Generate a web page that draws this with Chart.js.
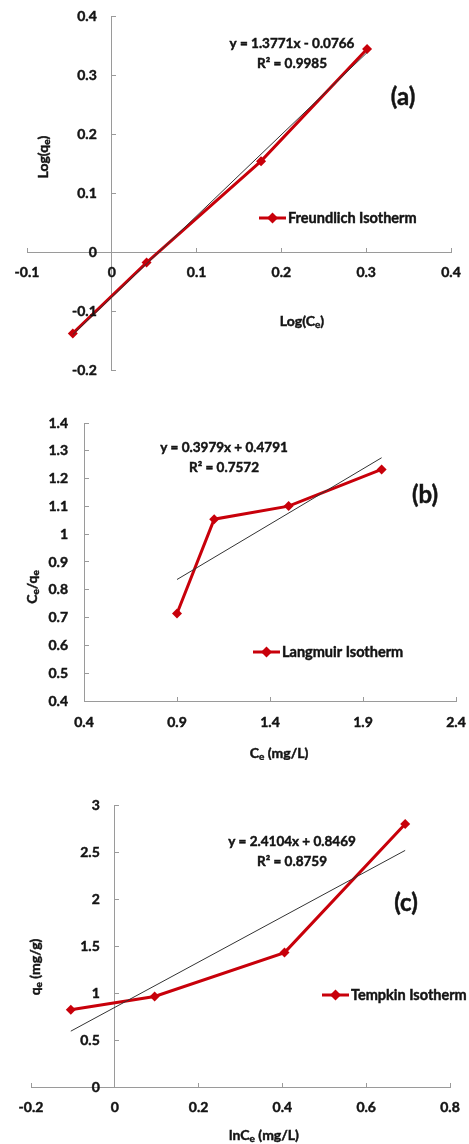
<!DOCTYPE html>
<html>
<head>
<meta charset="utf-8">
<script src="https://cdn.jsdelivr.net/npm/chart.js@4"></script>
<style>
  body { margin: 0; background: #fff; }
  #wrap { position: relative; width: 469px; height: 1144px; }
  canvas { position: absolute; left: 0; }
</style>
</head>
<body>
<div id="wrap">
  <canvas id="chartA" width="469" height="380" style="top:0"></canvas>
  <canvas id="chartB" width="469" height="380" style="top:380px"></canvas>
  <canvas id="chartC" width="469" height="384" style="top:760px"></canvas>
</div>
<script>
// (a) Freundlich isotherm
const freundlichX = [-0.046, 0.041, 0.176, 0.301];
const freundlichY = [-0.138, -0.018, 0.154, 0.344];
const freundlichTrendX = [-0.046, 0.301];
const freundlichTrendY = [-0.140, 0.338];
const freundlichXTicks = [-0.1, 0, 0.1, 0.2, 0.3, 0.4];
const freundlichYTicks = [-0.2, -0.1, 0, 0.1, 0.2, 0.3, 0.4];

// (b) Langmuir isotherm
const langmuirX = [0.9, 1.1, 1.5, 2.0];
const langmuirY = [0.715, 1.054, 1.101, 1.233];
const langmuirTrendX = [0.9, 2.0];
const langmuirTrendY = [0.837, 1.275];
const langmuirXTicks = [0.4, 0.9, 1.4, 1.9, 2.4];
const langmuirYTicks = [0.4, 0.5, 0.6, 0.7, 0.8, 0.9, 1, 1.1, 1.2, 1.3, 1.4];

// (c) Tempkin isotherm
const tempkinX = [-0.105, 0.095, 0.405, 0.693];
const tempkinY = [0.821, 0.963, 1.430, 2.798];
const tempkinTrendX = [-0.105, 0.693];
const tempkinTrendY = [0.594, 2.517];
const tempkinXTicks = [-0.2, 0, 0.2, 0.4, 0.6, 0.8];
const tempkinYTicks = [0, 0.5, 1, 1.5, 2, 2.5, 3];

const RED = '#c8000a';
const AXIS = '#9a9a9a';
const TEXT = '#141414';
const FONT = 'Lato, "Liberation Sans", sans-serif';

function points(xs, ys) {
    return xs.map((x, i) => ({ x: x, y: ys[i] }));
}

// fill plus a hairline stroke, so the bold text reads as heavy as the original
function heavyText(ctx, s, x, y) {
    ctx.fillText(s, x, y);
    ctx.strokeText(s, x, y);
}

// draws text made of [string, isSubscript] parts, centred on x
function drawRich(ctx, parts, x, y, size) {
    const subSize = Math.round(size * 0.68);
    let total = 0;
    parts.forEach(p => {
        ctx.font = 'bold ' + (p[1] ? subSize : size) + 'px ' + FONT;
        total += ctx.measureText(p[0]).width;
    });
    let cx = x - total / 2;
    ctx.textAlign = 'left';
    ctx.textBaseline = 'middle';
    parts.forEach(p => {
        ctx.font = 'bold ' + (p[1] ? subSize : size) + 'px ' + FONT;
        heavyText(ctx, p[0], cx, p[1] ? y + size * 0.28 : y);
        cx += ctx.measureText(p[0]).width;
    });
}

function makeChart(id, cfg) {
    const overlay = {
        id: 'overlay',
        afterDraw(chart) {
            const ctx = chart.ctx;
            const xs = chart.scales.x, ys = chart.scales.y;
            const axisY = ys.getPixelForValue(cfg.xCross);
            const axisX = xs.getPixelForValue(cfg.yCross);
            ctx.save();
            ctx.fillStyle = TEXT;
            ctx.strokeStyle = TEXT;
            ctx.lineWidth = 0.45;
            ctx.font = 'bold 14px ' + FONT;
            // tick labels
            ctx.textAlign = 'center';
            ctx.textBaseline = 'middle';
            xs.ticks.forEach(t => heavyText(ctx, String(t.value), xs.getPixelForValue(t.value), axisY + cfg.xLabelGap));
            ctx.textAlign = 'right';
            ys.ticks.forEach(t => heavyText(ctx, String(t.value), axisX - cfg.yLabelGap, ys.getPixelForValue(t.value)));
            // trendline equation
            drawRich(ctx, [[cfg.equation[0], false]], cfg.eqPos[0], cfg.eqPos[1], 13.5);
            drawRich(ctx, [[cfg.equation[1], false]], cfg.eqPos[0], cfg.eqPos[1] + 20, 13.5);
            // panel tag
            drawRich(ctx, [[cfg.tag, false]], cfg.tagPos[0], cfg.tagPos[1], 24);
            // axis titles
            drawRich(ctx, cfg.xTitle, cfg.xTitlePos[0], cfg.xTitlePos[1], 14);
            ctx.translate(cfg.yTitlePos[0], cfg.yTitlePos[1]);
            ctx.rotate(-Math.PI / 2);
            drawRich(ctx, cfg.yTitle, 0, 0, 14);
            ctx.restore();

            // legend
            const [lx, ly] = cfg.legendPos;
            ctx.save();
            ctx.strokeStyle = RED;
            ctx.lineWidth = 3;
            ctx.beginPath();
            ctx.moveTo(lx, ly);
            ctx.lineTo(lx + 27, ly);
            ctx.stroke();
            ctx.fillStyle = RED;
            ctx.beginPath();
            ctx.moveTo(lx + 13.5, ly - 5.5);
            ctx.lineTo(lx + 19, ly);
            ctx.lineTo(lx + 13.5, ly + 5.5);
            ctx.lineTo(lx + 8, ly);
            ctx.closePath();
            ctx.fill();
            ctx.fillStyle = TEXT;
            ctx.strokeStyle = TEXT;
            ctx.lineWidth = 0.45;
            ctx.font = 'bold 14.5px ' + FONT;
            ctx.textAlign = 'left';
            ctx.textBaseline = 'middle';
            heavyText(ctx, cfg.legend, lx + 29, ly);
            ctx.restore();
        }
    };

    const axisOpts = (ticks, cross, crossAxis) => ({
        type: 'linear',
        min: ticks[0],
        max: ticks[ticks.length - 1],
        position: { [crossAxis]: cross },
        afterBuildTicks: s => { s.ticks = ticks.map(v => ({ value: v })); },
        ticks: { display: false, autoSkip: false },
        grid: { drawOnChartArea: false, drawTicks: true, tickLength: -5, color: AXIS },
        border: { color: AXIS, width: 1 }
    });

    return new Chart(document.getElementById(id), {
        type: 'scatter',
        data: {
            datasets: [{
                label: cfg.legend,
                data: points(cfg.x, cfg.y),
                showLine: true,
                borderColor: RED,
                backgroundColor: RED,
                borderWidth: 3,
                pointStyle: 'rectRot',
                pointRadius: 5,
                pointBorderWidth: 0,
                order: 1
            }, {
                label: 'trend',
                data: points(cfg.trendX, cfg.trendY),
                showLine: true,
                borderColor: '#333333',
                borderWidth: 1,
                pointRadius: 0,
                order: 0
            }]
        },
        options: {
            responsive: false,
            animation: false,
            layout: { padding: cfg.padding },
            plugins: { legend: { display: false }, tooltip: { enabled: false } },
            scales: {
                x: axisOpts(cfg.xTicks, cfg.xCross, 'y'),
                y: axisOpts(cfg.yTicks, cfg.yCross, 'x')
            }
        },
        plugins: [overlay]
    });
}

makeChart('chartA', {
    x: freundlichX, y: freundlichY, trendX: freundlichTrendX, trendY: freundlichTrendY,
    xTicks: freundlichXTicks, yTicks: freundlichYTicks, xCross: 0, yCross: 0,
    padding: { left: 27, right: 18, top: 16, bottom: 10 },
    xLabelGap: 20, yLabelGap: 15,
    equation: ['y = 1.3771x - 0.0766', 'R\u00b2 = 0.9985'], eqPos: [292, 44],
    tag: '(a)', tagPos: [403, 97],
    legend: 'Freundlich Isotherm', legendPos: [259, 218],
    xTitle: [['Log(C', false], ['e', true], [')', false]], xTitlePos: [302, 321],
    yTitle: [['Log(q', false], ['e', true], [')', false]], yTitlePos: [43, 157]
});

makeChart('chartB', {
    x: langmuirX, y: langmuirY, trendX: langmuirTrendX, trendY: langmuirTrendY,
    xTicks: langmuirXTicks, yTicks: langmuirYTicks, xCross: 0.4, yCross: 0.4,
    padding: { left: 84, right: 13, top: 43, bottom: 59 },
    xLabelGap: 21, yLabelGap: 16,
    equation: ['y = 0.3979x + 0.4791', 'R\u00b2 = 0.7572'], eqPos: [224, 68],
    tag: '(b)', tagPos: [425, 115],
    legend: 'Langmuir Isotherm', legendPos: [253, 272],
    xTitle: [['C', false], ['e', true], [' (mg/L)', false]], xTitlePos: [279, 373],
    yTitle: [['C', false], ['e', true], ['/q', false], ['e', true]], yTitlePos: [32, 207]
});

makeChart('chartC', {
    x: tempkinX, y: tempkinY, trendX: tempkinTrendX, trendY: tempkinTrendY,
    xTicks: tempkinXTicks, yTicks: tempkinYTicks, xCross: 0, yCross: 0,
    padding: { left: 31, right: 19, top: 45, bottom: 57 },
    xLabelGap: 20, yLabelGap: 15,
    equation: ['y = 2.4104x + 0.8469', 'R\u00b2 = 0.8759'], eqPos: [292, 82],
    tag: '(c)', tagPos: [406, 143],
    legend: 'Tempkin Isotherm', legendPos: [322, 235],
    xTitle: [['lnC', false], ['e', true], [' (mg/L)', false]], xTitlePos: [264, 375],
    yTitle: [['q', false], ['e', true], [' (mg/g)', false]], yTitlePos: [35, 207]
});
</script>
</body>
</html>
